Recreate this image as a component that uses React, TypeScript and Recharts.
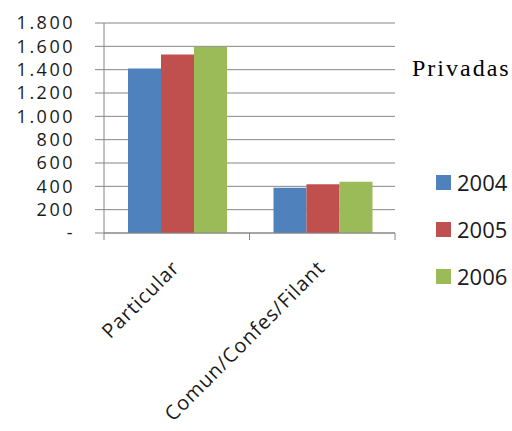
import React from "react";
import { BarChart, Bar, XAxis, YAxis, CartesianGrid, Legend } from "recharts";

const categories = ["Particular", "Comun/Confes/Filant"];
const years = ["2004", "2005", "2006"];
const colors = ["#4F81BD", "#C0504D", "#9BBB59"];
const values2004 = [1410, 387];
const values2005 = [1529, 418];
const values2006 = [1594, 439];
const yTicks = [0, 200, 400, 600, 800, 1000, 1200, 1400, 1600, 1800];

const data = categories.map((name, i) => ({
  name,
  "2004": values2004[i],
  "2005": values2005[i],
  "2006": values2006[i],
}));

const axisGray = "#868686";
const sans = "'Open Sans', sans-serif";

const formatTick = (v: number) =>
  v === 0 ? "-" : String(v).replace(/\B(?=(\d{3})+(?!\d))/g, ".");

// label rotated -45deg plus the Excel-style tick marks at the band edges
const CategoryTick = (props: any) => {
  const { x, y, payload, index, visibleTicksCount } = props;
  const half = payload.offset || 0;
  const last = index === visibleTicksCount - 1;
  const lx = x + 4;
  const ly = y + 36;
  return (
    <g>
      <line x1={x - half} x2={x - half} y1={y} y2={y + 7} stroke={axisGray} />
      {last && (
        <line x1={x + half} x2={x + half} y1={y} y2={y + 7} stroke={axisGray} />
      )}
      <text
        x={lx}
        y={ly}
        transform={`rotate(-45, ${lx}, ${ly})`}
        textAnchor="end"
        fontFamily={sans}
        fontSize={20}
        letterSpacing={1}
        fill="#1a1a1a"
      >
        {payload.value}
      </text>
    </g>
  );
};

const LegendBox = (props: any) => {
  const items = props.payload || [];
  return (
    <div style={{ position: "relative", width: 108, height: 0 }}>
      <div
        style={{
          position: "absolute",
          left: 8,
          top: 0,
          fontFamily: "'Liberation Serif', serif",
          fontSize: 24,
          letterSpacing: 2,
          color: "#000",
          whiteSpace: "nowrap",
        }}
      >
        Privadas
      </div>
      {items.map((item: any, i: number) => (
        <div
          key={item.value}
          style={{
            position: "absolute",
            left: 32,
            top: 114 + i * 47,
            display: "flex",
            alignItems: "center",
            fontFamily: sans,
            fontSize: 22,
            color: "#1a1a1a",
            lineHeight: "26px",
          }}
        >
          <span
            style={{
              display: "inline-block",
              width: 15,
              height: 15,
              background: item.color,
              marginRight: 6,
            }}
          />
          {item.value}
        </div>
      ))}
    </div>
  );
};

export default function App() {
  return (
    <div style={{ position: "absolute", left: 0, top: 0, background: "#fff" }}>
      <BarChart
        width={512}
        height={431}
        data={data}
        margin={{ top: 23, right: 117, left: 0, bottom: 0 }}
        barCategoryGap={24}
        barGap={0}
      >
        <CartesianGrid vertical={false} stroke={axisGray} strokeWidth={1} />
        <XAxis
          dataKey="name"
          height={198}
          stroke={axisGray}
          tickLine={false}
          tickSize={0}
          tickMargin={0}
          tick={<CategoryTick />}
          interval={0}
        />
        <YAxis
          width={104}
          domain={[0, 1800]}
          ticks={yTicks}
          interval={0}
          tickFormatter={formatTick}
          stroke={axisGray}
          tickSize={9}
          tickMargin={20}
          tick={{ fill: "#1a1a1a", fontFamily: sans, fontSize: 18, letterSpacing: 2.5 }}
        />
        <Legend
          layout="vertical"
          align="center"
          verticalAlign="top"
          wrapperStyle={{ left: 404, top: 55, width: 108, height: 0, overflow: "visible" }}
          content={<LegendBox />}
        />
        {years.map((y, i) => (
          <Bar key={y} dataKey={y} fill={colors[i]} isAnimationActive={false} />
        ))}
      </BarChart>
    </div>
  );
}
